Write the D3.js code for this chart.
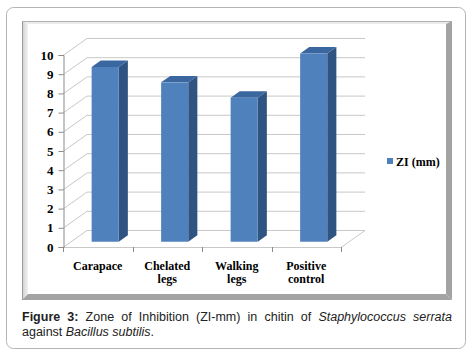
<!DOCTYPE html>
<html>
<head>
<meta charset="utf-8">
<script src="https://cdn.jsdelivr.net/npm/d3@7"></script>
<style>
  body { margin: 0; background: #fff; }
  #wrap { position: relative; width: 475px; height: 355px; }
  #caption {
    position: absolute; left: 22px; top: 310px; width: 430px;
    font-family: "Liberation Sans", Arial, sans-serif; font-size: 12.5px;
    line-height: 15px; color: #222; text-align: justify;
  }
</style>
</head>
<body>
<div id="wrap"></div>
<script>
// data
var categories = ["Carapace", "Chelated legs", "Walking legs", "Positive control"];
var catLines = [["Carapace"], ["Chelated", "legs"], ["Walking", "legs"], ["Positive", "control"]];
var values = [9.1, 8.3, 7.5, 9.8];
var yTicks = [0, 1, 2, 3, 4, 5, 6, 7, 8, 9, 10];
var seriesName = "ZI (mm)";

var W = 475, H = 355;
var plotLeft = 63, plotRight = 341, plotBottom = 247, plotTop = 55;
var depthX = 24, depthY = -17; // 3d offset of the back wall
var f0 = 0.31, f1 = 0.69;      // bar depth, front and back

var svg = d3.select("#wrap").append("svg")
    .attr("width", W)
    .attr("height", H)
    .style("position", "absolute")
    .style("left", 0).style("top", 0);

// outer rounded box
svg.append("rect")
    .attr("x", 6.5).attr("y", 7.5)
    .attr("width", 459).attr("height", 341)
    .attr("rx", 7)
    .attr("fill", "#fff")
    .attr("stroke", "#b4b4b4");

// chart frame with bevel
var fo = {x0: 22, y0: 21, x1: 452, y1: 300}, fi = {x0: 28, y0: 24, x1: 446, y1: 294};
var defs = svg.append("defs");
var lg = defs.append("linearGradient").attr("id", "leftBevel");
lg.append("stop").attr("offset", "0%").attr("stop-color", "#cfcfcf");
lg.append("stop").attr("offset", "100%").attr("stop-color", "#f2f2f2");

svg.append("polygon")
    .attr("points", [[fo.x0, fo.y0], [fo.x1, fo.y0], [fi.x1, fi.y0], [fi.x0, fi.y0]].join(" "))
    .attr("fill", "#ececec");
svg.append("polygon")
    .attr("points", [[fo.x0, fo.y0], [fi.x0, fi.y0], [fi.x0, fi.y1], [fo.x0, fo.y1]].join(" "))
    .attr("fill", "url(#leftBevel)");
svg.append("polygon")
    .attr("points", [[fo.x1, fo.y0], [fo.x1, fo.y1], [fi.x1, fi.y1], [fi.x1, fi.y0]].join(" "))
    .attr("fill", "#a3a3a3");
svg.append("polygon")
    .attr("points", [[fo.x0, fo.y1], [fo.x1, fo.y1], [fi.x1, fi.y1], [fi.x0, fi.y1]].join(" "))
    .attr("fill", "#a3a3a3");
svg.append("line")
    .attr("x1", fo.x0 + 0.5).attr("x2", fo.x0 + 0.5)
    .attr("y1", fo.y0).attr("y2", fo.y1)
    .attr("stroke", "#9a9a9a");
svg.append("line")
    .attr("x1", fo.x0).attr("x2", fo.x1)
    .attr("y1", fo.y0 + 0.5).attr("y2", fo.y0 + 0.5)
    .attr("stroke", "#b0b0b0");

// scales
var y = d3.scaleLinear().domain([0, 10]).range([plotBottom, plotTop]);
var xc = d3.scaleBand().domain(categories).range([plotLeft, plotRight]);
var xb = d3.scaleBand().domain(categories).range([plotLeft, plotRight])
    .paddingInner(0.61).paddingOuter(0.305);

var grid = svg.append("g").attr("stroke", "#c8c8c8").attr("fill", "none");

// back wall gridlines and side wall diagonals
yTicks.forEach(function (t) {
  grid.append("line")
      .attr("x1", plotLeft + depthX).attr("x2", plotRight + depthX)
      .attr("y1", y(t) + depthY + 0.5).attr("y2", y(t) + depthY + 0.5);
  grid.append("line")
      .attr("x1", plotLeft).attr("y1", y(t) + 0.5)
      .attr("x2", plotLeft + depthX).attr("y2", y(t) + depthY + 0.5);
});
// floor
grid.append("line")
    .attr("x1", plotLeft).attr("x2", plotRight)
    .attr("y1", plotBottom + 0.5).attr("y2", plotBottom + 0.5);
grid.append("line")
    .attr("x1", plotRight).attr("y1", plotBottom + 0.5)
    .attr("x2", plotRight + depthX).attr("y2", plotBottom + depthY + 0.5);

// y axis
var yAxis = svg.append("g")
    .attr("transform", "translate(" + (plotLeft + 0.5) + ",0)")
    .call(d3.axisLeft(y).tickValues(yTicks).tickSize(5).tickPadding(5).tickFormat(d3.format("d")));
yAxis.select(".domain").attr("stroke", "#8c8c8c");
yAxis.selectAll(".tick line").attr("stroke", "#8c8c8c");
yAxis.selectAll(".tick text")
    .attr("fill", "#000")
    .style("font-family", "'Liberation Serif', 'Times New Roman', serif")
    .style("font-size", "13px")
    .style("font-weight", "bold");

// x ticks on the front floor edge
var xTickPos = categories.map(function (c) { return xc(c); }).concat([plotRight]);
svg.append("g").selectAll("line")
    .data(xTickPos)
    .enter().append("line")
    .attr("x1", function (d) { return Math.round(d) + 0.5; })
    .attr("x2", function (d) { return Math.round(d) + 0.5; })
    .attr("y1", plotBottom)
    .attr("y2", plotBottom + 5)
    .attr("stroke", "#8c8c8c");

// bars
var ox0 = depthX * f0, oy0 = depthY * f0, ox1 = depthX * f1, oy1 = depthY * f1;
var bw = xb.bandwidth();
var bars = svg.append("g").selectAll("g")
    .data(values)
    .enter().append("g");

bars.append("polygon") // side
    .attr("points", function (d, i) {
      var x = xb(categories[i]) + bw;
      return [[x + ox0, y(d) + oy0], [x + ox1, y(d) + oy1],
              [x + ox1, y(0) + oy1], [x + ox0, y(0) + oy0]].join(" ");
    })
    .attr("fill", "#2f5482");
bars.append("polygon") // top
    .attr("points", function (d, i) {
      var x = xb(categories[i]);
      return [[x + ox0, y(d) + oy0], [x + ox1, y(d) + oy1],
              [x + bw + ox1, y(d) + oy1], [x + bw + ox0, y(d) + oy0]].join(" ");
    })
    .attr("fill", "#3a67a0");
bars.append("rect") // front
    .attr("x", function (d, i) { return xb(categories[i]) + ox0; })
    .attr("y", function (d) { return y(d) + oy0; })
    .attr("width", bw)
    .attr("height", function (d) { return y(0) - y(d); })
    .attr("fill", "#4f81bd");

// category labels
var labels = svg.append("g")
    .style("font-family", "'Liberation Serif', 'Times New Roman', serif")
    .style("font-size", "12px")
    .style("font-weight", "bold")
    .attr("fill", "#000")
    .attr("text-anchor", "middle");
categories.forEach(function (c, i) {
  var t = labels.append("text")
      .attr("x", xc(c) + xc.bandwidth() / 2)
      .attr("y", 270);
  catLines[i].forEach(function (ln, j) {
    t.append("tspan")
        .attr("x", xc(c) + xc.bandwidth() / 2)
        .attr("dy", j === 0 ? 0 : 13)
        .text(ln);
  });
});

// legend
svg.append("rect")
    .attr("x", 387).attr("y", 158)
    .attr("width", 6).attr("height", 6)
    .attr("fill", "#4f81bd");
svg.append("text")
    .attr("x", 396).attr("y", 166)
    .style("font-family", "'Liberation Serif', 'Times New Roman', serif")
    .style("font-size", "12px")
    .style("font-weight", "bold")
    .attr("fill", "#000")
    .text(seriesName);

// caption
var cap = d3.select("#wrap").append("div").attr("id", "caption");
cap.append("b").text("Figure 3:");
cap.append("span").text(" Zone of Inhibition (ZI-mm) in chitin of ");
cap.append("i").text("Staphylococcus serrata");
cap.append("span").text(" against ");
cap.append("i").text("Bacillus subtilis");
cap.append("span").text(".");
</script>
</body>
</html>
